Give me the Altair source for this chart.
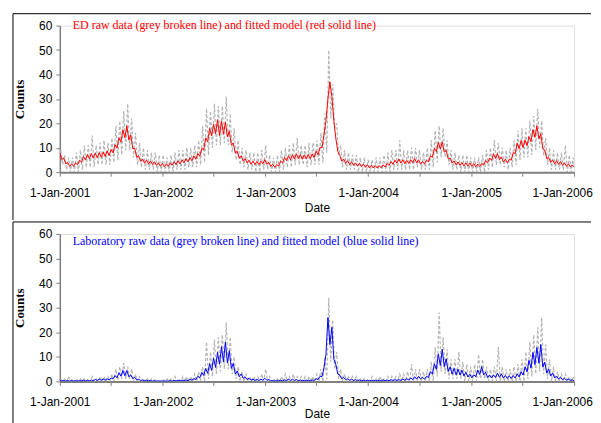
import altair as alt
import pandas as pd

# ---------------- data ----------------
# nodes every 14 days from 1-Jan-2001; fitted: value at day 14i (a) and 14i+7 (b)
# raw: value at day 14i+3 (hi) and 14i+10 (lo)
ed_fit_a = [8.0, 5.8, 3.9, 3.4, 3.8, 4.9, 6.4, 7.2, 7.6, 7.8,
            8.0, 8.2, 8.7, 9.3, 11.3, 14.1, 17.4, 19.0, 15.2, 9.7,
            6.7, 5.4, 4.9, 4.6, 4.3, 3.8, 3.6, 3.4, 3.8, 4.3,
            4.7, 5.0, 5.5, 6.0, 6.7, 7.6, 9.7, 14.1, 17.9, 19.6,
            21.5, 21.0, 20.5, 16.8, 11.9, 8.6, 6.7, 5.6, 4.9, 4.5,
            4.4, 4.5, 5.1, 4.0, 3.3, 3.1, 4.5, 6.0, 6.7, 7.1,
            7.5, 7.2, 7.1, 7.3, 7.5, 8.6, 10.2, 15.5, 30.0, 31.0,
            14.0, 6.9, 5.4, 4.7, 4.3, 3.8, 3.6, 3.3, 3.0, 2.8,
            2.7, 2.7, 3.0, 3.6, 4.3, 4.9, 5.4, 5.0, 4.8, 5.1,
            5.6, 5.1, 4.4, 4.9, 6.7, 9.7, 12.2, 12.4, 8.9, 5.8,
            4.6, 4.2, 3.9, 3.8, 3.7, 3.5, 3.3, 3.6, 4.7, 5.8,
            7.5, 7.6, 6.2, 5.3, 5.3, 8.0, 11.9, 13.0, 13.2, 14.6,
            17.4, 19.0, 15.7, 9.1, 6.0, 5.0, 4.7, 4.4, 3.8, 3.4,
            3.0]
ed_fit_b = [5.1, 3.4, 2.4, 2.4, 3.0, 4.1, 5.0, 5.5, 5.7, 5.9,
            6.1, 6.4, 6.8, 7.9, 9.8, 12.3, 14.1, 13.2, 9.6, 6.1,
            4.4, 3.7, 3.3, 3.1, 2.8, 2.5, 2.3, 2.4, 2.8, 3.1,
            3.4, 3.8, 4.2, 4.7, 5.3, 6.5, 9.1, 12.5, 14.8, 15.7,
            15.0, 15.5, 14.5, 11.2, 7.8, 5.7, 4.5, 3.8, 3.3, 3.1,
            3.1, 3.4, 3.2, 2.4, 2.0, 2.5, 3.8, 4.7, 5.1, 5.4,
            5.5, 5.3, 5.4, 5.5, 6.0, 7.1, 10.0, 21.0, 37.0, 21.0,
            8.5, 4.5, 3.6, 3.1, 2.8, 2.5, 2.3, 2.0, 1.8, 1.7,
            1.7, 1.8, 2.1, 2.7, 3.2, 3.7, 3.7, 3.5, 3.5, 3.8,
            3.8, 3.3, 3.3, 4.2, 6.1, 8.4, 9.5, 8.2, 5.5, 3.7,
            3.0, 2.8, 2.6, 2.5, 2.4, 2.2, 2.3, 2.9, 3.8, 4.9,
            5.6, 5.1, 4.2, 3.8, 4.9, 7.6, 9.6, 10.1, 10.8, 12.5,
            14.3, 13.7, 9.6, 5.6, 4.0, 3.4, 3.2, 2.8, 2.4, 2.1,
            2.0]
ed_raw_hi = [9, 7, 6, 6, 8, 9, 11, 11, 15, 11,
             12, 13, 12, 14, 19, 21, 25, 28, 22, 16,
             12, 10, 9, 8, 8, 7, 7, 6, 7, 8,
             9, 9, 10, 10, 11, 13, 19, 26, 25, 28,
             27, 27, 31, 24, 18, 13, 10, 9, 8, 8,
             8, 9, 11, 7, 6, 7, 9, 10, 11, 12,
             14, 11, 11, 12, 12, 13, 16, 24, 50, 36,
             20, 11, 9, 8, 7, 7, 6, 6, 5, 5,
             6, 6, 7, 8, 9, 9, 13, 9, 9, 10,
             10, 9, 8, 10, 13, 17, 19, 18, 13, 9,
             8, 7, 7, 7, 6, 6, 6, 7, 9, 10,
             13, 12, 10, 9, 10, 13, 17, 18, 18, 21,
             23, 26, 21, 14, 10, 9, 8, 8, 11, 7,
             6]
ed_raw_lo = [3, 1, 0, 0, 0, 1, 2, 2, 2, 3,
             3, 3, 3, 4, 5, 7, 9, 9, 6, 3,
             2, 1, 1, 1, 0, 0, 0, 0, 0, 1,
             1, 1, 2, 2, 2, 3, 4, 7, 10, 11,
             11, 12, 11, 8, 5, 3, 2, 1, 1, 0,
             0, 1, 1, 0, 0, 0, 1, 2, 2, 3,
             3, 3, 2, 3, 3, 3, 4, 8, 22, 18,
             7, 2, 1, 1, 1, 0, 0, 0, 0, 0,
             0, 0, 0, 0, 1, 1, 1, 1, 1, 1,
             2, 1, 1, 1, 2, 4, 6, 6, 3, 1,
             1, 0, 0, 0, 0, 0, 0, 0, 1, 2,
             3, 3, 2, 1, 2, 3, 5, 6, 6, 7,
             9, 10, 7, 3, 1, 1, 1, 1, 0, 0,
             0]

lab_fit_a = [0.5, 0.4, 0.4, 0.4, 0.4, 0.4, 0.5, 0.5, 0.6, 0.8,
             0.9, 1.0, 1.1, 1.4, 2.4, 3.5, 4.5, 4.4, 2.7, 1.7,
             0.9, 0.6, 0.5, 0.4, 0.4, 0.2, 0.2, 0.2, 0.4, 0.4,
             0.5, 0.5, 0.6, 0.8, 1.1, 2.1, 3.7, 5.3, 7.2, 9.5,
             11.8, 14.1, 16.0, 12.5, 7.3, 4.3, 3.0, 1.9, 1.3, 0.9,
             0.8, 0.9, 1.3, 0.8, 0.4, 0.4, 0.5, 0.6, 0.9, 0.9,
             0.8, 0.6, 0.5, 0.5, 0.6, 1.1, 2.1, 5.5, 26.0, 22.0,
             7.0, 2.6, 1.6, 1.1, 0.9, 0.7, 0.6, 0.5, 0.5, 0.5,
             0.5, 0.5, 0.6, 0.6, 0.7, 0.7, 0.7, 0.9, 1.1, 1.4,
             1.9, 2.1, 1.7, 2.1, 4.0, 7.2, 11.2, 13.1, 9.2, 6.0,
             5.3, 5.0, 4.6, 3.7, 2.9, 2.7, 4.7, 6.0, 3.7, 2.6,
             2.7, 3.4, 3.1, 2.4, 2.3, 2.4, 3.1, 4.0, 6.0, 8.6,
             11.8, 13.8, 15.0, 7.9, 5.0, 3.4, 2.2, 1.7, 1.3, 0.9,
             0.6]
lab_fit_b = [0.2, 0.1, 0.1, 0.1, 0.1, 0.2, 0.2, 0.2, 0.3, 0.4,
             0.5, 0.5, 0.6, 1.0, 1.5, 2.1, 2.3, 1.9, 1.1, 0.6,
             0.4, 0.2, 0.2, 0.1, 0.1, 0.1, 0.1, 0.1, 0.1, 0.2,
             0.2, 0.2, 0.3, 0.5, 0.8, 1.5, 2.4, 3.3, 4.5, 5.7,
             7.0, 8.0, 7.5, 5.3, 3.0, 1.9, 1.3, 0.8, 0.5, 0.4,
             0.4, 0.5, 0.5, 0.2, 0.1, 0.2, 0.2, 0.4, 0.4, 0.4,
             0.3, 0.2, 0.2, 0.2, 0.4, 0.8, 2.0, 11.0, 15.0, 9.0,
             3.0, 1.1, 0.7, 0.5, 0.4, 0.3, 0.2, 0.2, 0.2, 0.2,
             0.2, 0.2, 0.3, 0.3, 0.4, 0.4, 0.4, 0.5, 0.6, 0.8,
             1.0, 1.0, 0.9, 1.6, 3.0, 4.9, 6.5, 6.0, 4.0, 3.0,
             2.7, 2.6, 2.2, 1.8, 1.5, 1.9, 2.8, 2.6, 1.6, 1.4,
             1.6, 1.7, 1.4, 1.2, 1.2, 1.4, 1.8, 2.6, 3.9, 5.4,
             6.8, 7.4, 5.8, 3.4, 2.2, 1.4, 1.0, 0.7, 0.5, 0.4,
             0.2]
lab_raw_hi = [1, 1, 2, 1, 1, 1, 1, 1, 2, 1,
              2, 2, 2, 3, 5, 6, 7.5, 6, 5, 3,
              2, 1, 1, 1, 1, 0.5, 1, 1, 1, 2,
              1, 2, 2, 2, 3, 4, 6, 16, 12, 17,
              18, 19, 24, 18, 10, 6, 4, 3, 2, 2,
              2, 3, 5, 2, 1, 1, 2, 3, 2, 3,
              2, 2, 2, 2, 2, 3, 5, 10, 34, 25,
              12, 5, 3, 2, 2, 2, 1, 1, 1, 2,
              1, 2, 1, 2, 2, 2, 3, 3, 4, 7,
              5, 5, 4, 5, 8, 14, 28, 18, 13, 9,
              9, 12, 8, 7, 6, 7, 11, 9, 6, 5,
              6, 14, 6, 5, 5, 6, 7, 9, 12, 16,
              19, 22, 26, 15, 9, 6, 4, 3, 3, 2,
              2]
lab_raw_lo = [0, 0, 0, 0, 0, 0, 0, 0, 0, 0,
              0, 0, 0, 0, 0.5, 1, 1, 1, 0, 0,
              0, 0, 0, 0, 0, 0, 0, 0, 0, 0,
              0, 0, 0, 0, 0, 0, 0, 1, 2, 3,
              4, 5, 5, 3, 1, 0, 0, 0, 0, 0,
              0, 0, 0, 0, 0, 0, 0, 0, 0, 0,
              0, 0, 0, 0, 0, 0, 0, 1, 8, 5,
              1, 0, 0, 0, 0, 0, 0, 0, 0, 0,
              0, 0, 0, 0, 0, 0, 0, 0, 0, 0,
              0, 0, 0, 0, 0, 2, 4, 3, 1, 1,
              1, 1, 0, 0, 0, 0, 1, 1, 0, 0,
              0, 0, 0, 0, 0, 0, 0, 0, 1, 2,
              3, 4, 3, 1, 0, 0, 0, 0, 0, 0,
              0]

tick_days = [0, 181, 365, 546, 730, 911, 1095, 1276, 1461, 1642, 1826]
tick_labels = ["1-Jan-2001", "", "1-Jan-2002", "", "1-Jan-2003", "",
               "1-Jan-2004", "", "1-Jan-2005", "", "1-Jan-2006"]
y_ticks = [0, 10, 20, 30, 40, 50, 60]
titles = ["ED raw data (grey broken line) and fitted model (red solid line)",
          "Laboratory raw data (grey broken line) and fitted model (blue solid line)"]
fit_colors = ["#FF0000", "#0000FF"]
GREY = "#B4B4B4"
STEP = 14
W = 516


def zigzag(a, b, off_a, off_b):
    rows = []
    for i, (va, vb) in enumerate(zip(a, b)):
        rows.append({"day": STEP * i + off_a, "count": va})
        rows.append({"day": STEP * i + off_b, "count": vb})
    return pd.DataFrame(rows)


label_expr = " : ".join(f"datum.value == {d} ? '{l}'" for d, l in zip(tick_days, tick_labels)) + " : ''"
y_label_expr = " : ".join(f"datum.value == {v} ? '{v}'" for v in y_ticks) + " : ''"
one = pd.DataFrame({"k": [0]})


def panel(fit_a, fit_b, raw_hi, raw_lo, title, color, height, top):
    raw = zigzag(raw_hi, raw_lo, 3, 10)
    fit = zigzag(fit_a, fit_b, 0, 7)
    x = alt.X("day:Q", scale=alt.Scale(domain=[0, 1826], nice=False, zero=False),
              axis=alt.Axis(values=tick_days, labelExpr=label_expr, title="Date", grid=False,
                            domainColor="#808080", domainWidth=2, tickColor="#808080",
                            tickSize=4, tickWidth=1, labelFont="Liberation Sans", labelFontSize=12,
                            labelColor="black", labelPadding=11, labelFlush=False, labelOverlap=False,
                            labelOffset={"condition": {"test": f"datum.value == {tick_days[-1]}", "value": -12},
                                         "value": 0},
                            titleFont="Liberation Sans", titleFontSize=12, titleFontWeight="normal",
                            titleColor="black", titlePadding=4 if top else 1))
    y = alt.Y("count:Q", scale=alt.Scale(domain=[0, 60], nice=False),
              axis=alt.Axis(values=y_ticks, tickCount=7, labelExpr=y_label_expr, title="Counts", grid=False,
                            domainColor="#808080", domainWidth=1.5, tickColor="#808080",
                            tickSize=4, labelFont="Liberation Sans", labelFontSize=12,
                            labelColor="black", labelPadding=4, labelFlush=False, labelOverlap=False,
                            labelSeparation=0,
                            titleFont="Liberation Serif", titleFontSize=13, titleFontWeight="bold",
                            titleColor="black", titlePadding=12))
    grey = alt.Chart(raw).mark_line(color=GREY, strokeWidth=1.2, strokeDash=[3, 2], clip=True).encode(x=x, y=y)
    fitted = alt.Chart(fit).mark_line(color=color, strokeWidth=1, clip=True).encode(x=x, y=y)
    label = alt.Chart(pd.DataFrame({"t": [title]})).mark_text(
        align="left", baseline="middle", font="Liberation Serif", fontSize=12, color=color
    ).encode(text="t:N", x=alt.value(13), y=alt.value(-1 if top else 7))
    if top:
        hline = alt.Chart(one).mark_rule(color="black", strokeWidth=1).encode(
            x=alt.value(-47), x2=alt.value(W + 17), y=alt.value(-12))
        vline = alt.Chart(one).mark_rule(color="black", strokeWidth=1).encode(
            x=alt.value(-47), y=alt.value(-12), y2=alt.value(height + 48))
    else:
        hline = alt.Chart(one).mark_rule(color="black", strokeWidth=1).encode(
            x=alt.value(-47), x2=alt.value(W + 17), y=alt.value(-12))
        vline = alt.Chart(one).mark_rule(color="black", strokeWidth=1).encode(
            x=alt.value(-47), y=alt.value(-12), y2=alt.value(height + 42))
    return alt.layer(grey, fitted, label, hline, vline).properties(width=W, height=height)


top = panel(ed_fit_a, ed_fit_b, ed_raw_hi, ed_raw_lo, titles[0], fit_colors[0], 147, True)
bottom = panel(lab_fit_a, lab_fit_b, lab_raw_hi, lab_raw_lo, titles[1], fit_colors[1], 148, False)

chart = alt.vconcat(top, bottom, spacing=0).properties(
    padding={"left": 4, "top": 4, "right": 0, "bottom": 0}
).configure_view(stroke=None).configure(background="white")

chart.save("out.html", embed_options={"renderer": "svg", "actions": False})
